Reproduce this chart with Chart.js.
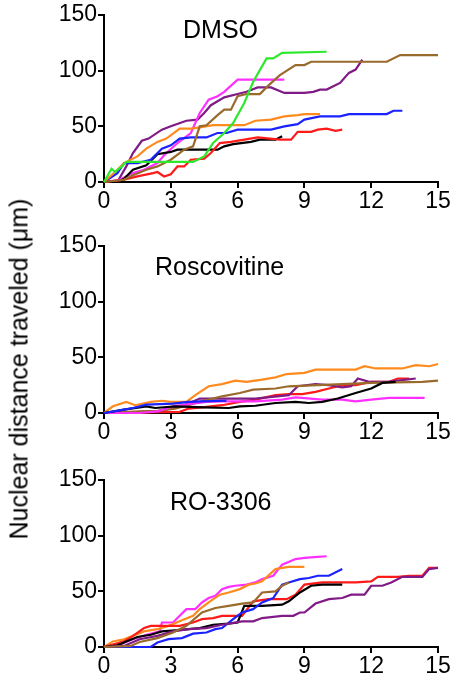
<!DOCTYPE html>
<html>
<head>
<meta charset="utf-8">
<script src="https://cdn.jsdelivr.net/npm/chart.js@4/dist/chart.umd.min.js"></script>
<style>
  html, body { margin: 0; padding: 0; background: #fff; }
  body { width: 455px; height: 683px; position: relative; overflow: hidden; font-family: "Liberation Sans", Arial, sans-serif; }
  .pane { position: absolute; left: 0; width: 455px; height: 214px; }
  .ttl { position: absolute; font-size: 25px; color: #000; line-height: 1; white-space: nowrap; }
  #ytitle { position: absolute; left: 19px; top: 369px; transform: translate(-50%, -50%) rotate(-90deg); font-size: 25px; white-space: nowrap; color: #000; }
</style>
</head>
<body>
<div class="pane" style="top:0px"><canvas id="c1" width="455" height="214"></canvas></div>
<div class="pane" style="top:231px"><canvas id="c2" width="455" height="214"></canvas></div>
<div class="pane" style="top:465px"><canvas id="c3" width="455" height="214"></canvas></div>
<div class="ttl" style="left:183px; top:17px">DMSO</div>
<div class="ttl" style="left:155px; top:254px">Roscovitine</div>
<div class="ttl" style="left:170px; top:489px">RO-3306</div>
<div id="ytitle">Nuclear distance traveled (μm)</div>
<script>
// ---- data: [time, distance] pairs ----
const panelTitles = ["DMSO", "Roscovitine", "RO-3306"];
const xTicks = [0, 3, 6, 9, 12, 15];
const yTicks = [0, 50, 100, 150];
const seriesColors = {
  green: "#2ee82e", brown: "#9a6a2c", purple: "#801a86", magenta: "#ff30ff",
  orange: "#ff8a1e", blue: "#1a22ff", red: "#ff1a1a", black: "#000000"
};

// DMSO
const dmsoGreen = [[0,0],[0.34,12],[0.5,9],[0.8,14],[1.0,18],[4.0,18],[4.5,23],[4.9,35],[5.4,44],[5.8,53],[6.3,71],[6.7,90],[7.3,111],[7.6,111],[8.0,116],[10.0,117]];
const dmsoBrown = [[0,0],[0.9,2],[1.3,6],[1.9,11],[2.4,14],[3.0,20],[3.6,29],[4.0,32],[4.3,50],[4.6,51],[5.1,60],[5.4,65],[5.7,65],[6.0,77],[6.4,79],[7.0,79],[7.4,87],[7.9,96],[8.6,105],[9.0,105],[9.3,108],[12.7,108],[13.3,114],[15.0,114]];
const dmsoPurple = [[0,0],[0.6,0],[1.0,14],[1.3,26],[1.7,37],[2.0,39],[2.6,47],[3.0,50],[3.7,55],[4.2,56],[4.5,62],[4.8,69],[5.4,76],[6.0,79],[6.4,81],[6.9,85],[7.5,85],[8.1,80],[9.0,80],[9.4,81],[9.7,83],[10.0,83],[10.6,89],[11.0,98],[11.3,101],[11.6,110]];
const dmsoMagenta = [[0,0],[0.7,2],[1.3,8],[1.8,11],[2.4,17],[2.7,24],[3.3,35],[3.9,44],[4.3,62],[4.7,74],[5.1,77],[5.4,81],[6.0,92],[8.1,92]];
const dmsoOrange = [[0,0],[0.6,11],[0.9,17],[1.5,23],[1.9,30],[2.4,36],[2.8,39],[3.4,48],[3.9,48],[4.3,49],[4.9,51],[6.3,51],[6.8,55],[7.5,56],[8.1,59],[8.7,60],[9.0,61],[9.7,61]];
const dmsoBlue = [[0,0],[0.6,8],[0.9,17],[1.5,17],[2.1,20],[2.6,30],[3.0,33],[3.4,39],[3.9,40],[4.6,40],[5.1,44],[5.5,44],[6.0,47],[7.5,47],[8.1,50],[8.7,52],[9.0,56],[9.7,59],[10.6,59],[11.0,61],[12.7,61],[13.0,64],[13.4,64]];
const dmsoRed = [[0,0],[0.9,2],[1.5,5],[2.2,8],[2.4,9],[2.7,5],[3.0,7],[3.3,14],[3.6,14],[3.9,20],[4.5,21],[4.8,26],[5.2,35],[5.7,36],[6.3,38],[6.9,40],[7.9,38],[8.4,38],[8.7,45],[9.3,45],[9.6,47],[10.0,48],[10.4,46],[10.7,47]];
const dmsoBlack = [[0,0],[0.6,0],[0.9,3],[1.3,11],[1.9,15],[2.4,25],[3.0,27],[3.3,29],[5.1,29],[5.4,32],[5.8,34],[6.6,36],[7.0,38],[7.7,38],[8.0,41]];

// Roscovitine
const roscOrange = [[0,0],[0.4,6],[1.0,10],[1.4,7],[2.1,10],[2.6,11],[3.0,10],[3.7,10],[4.1,16],[4.7,24],[5.3,26],[5.9,29],[6.4,28],[7.1,30],[7.7,32],[8.2,35],[9.0,36],[9.5,39],[11.3,39],[11.7,42],[12.2,40],[13.4,40],[14.0,43],[14.6,42],[15.0,44]];
const roscBrown = [[0,0],[1.6,1.5],[2.4,2],[3.2,4],[4.3,10],[5.3,15],[6.1,18],[6.7,21],[7.7,22],[8.3,24],[9.6,25],[10.7,26],[12.0,27],[14.3,28],[15.0,29]];
const roscPurple = [[0,0],[2.4,1.5],[3.5,6],[4.3,13],[6.8,13],[8.3,16],[8.7,24],[9.5,26],[10.1,25],[10.7,23],[11.1,24],[11.4,31],[11.9,28],[12.8,28],[13.2,29],[14.0,31]];
const roscRed = [[0,0],[3.4,1],[3.8,4],[4.4,5],[5.3,7],[6.1,10],[6.8,12],[7.7,16],[8.3,17],[8.9,17],[9.5,19],[10.1,22],[10.7,25],[11.3,25],[12.0,28],[12.8,28],[13.2,31],[13.7,31]];
const roscBlack = [[0,0],[0.9,3],[1.9,6],[2.3,4.5],[3.2,6],[4.5,5],[5.6,4.5],[6.1,6],[6.8,6.5],[7.7,9],[8.6,10],[9.2,9],[9.8,10],[10.5,13],[11.3,18],[12.0,22],[12.5,27],[13.1,28]];
const roscBlue = [[0,0],[0.9,3],[1.3,4.5],[1.9,7.5],[3.1,8.5],[3.8,10],[4.4,10.5],[5.5,11]];
const roscMagenta = [[0,0],[1.6,0],[2.4,1.5],[3.1,6],[3.8,8],[4.6,10],[5.3,10.5],[6.8,10.5],[8.0,12],[8.6,14],[9.8,12],[10.7,12],[11.3,10.5],[12.0,12],[12.8,13.5],[14.4,13.5]];

// RO-3306
const roMagenta = [[0,0],[0.7,2],[1.3,7],[1.9,11],[2.5,14],[2.6,22],[3.1,22],[3.4,28],[3.7,34],[4.1,34],[4.4,40],[4.7,44],[5.0,46],[5.3,52],[5.6,54],[5.9,55],[6.4,56],[6.8,58],[7.1,61],[7.6,64],[8.0,74],[8.6,79],[9.0,80],[9.6,81],[10.0,81.5]];
const roOrange = [[0,0],[0.4,5],[0.9,7],[1.3,10],[1.8,14],[2.4,16],[2.9,19],[3.5,24],[4.0,28],[4.3,34],[4.7,40],[5.2,47],[5.6,49],[6.1,52],[6.5,56],[6.8,57],[7.1,59],[7.7,70],[8.0,71],[8.3,72],[9.0,72]];
const roBlue = [[0,0],[2.1,0],[2.4,4],[2.9,7],[3.5,8],[4.0,12],[4.6,13],[5.0,16],[5.3,17],[5.8,25],[6.2,31],[6.7,34],[7.1,40],[7.6,44],[8.0,56],[8.3,58],[8.8,61],[9.2,62],[9.6,64],[10.1,64],[10.7,70]];
const roBrown = [[0,0],[1.2,1],[1.6,4.5],[2.4,8],[3.1,13],[3.7,19],[4.4,31],[5.0,35],[5.6,37],[6.2,39],[6.7,40],[7.1,49],[7.7,50],[8.0,55],[8.3,58]];
const roRed = [[0,0],[0.9,5],[1.3,10],[1.8,17],[2.1,19],[3.4,19],[4.0,22],[4.4,25],[4.9,26],[5.3,28],[6.2,28],[6.7,41],[7.4,43],[8.2,43],[8.6,47],[9.0,56],[9.8,58],[11.3,58],[12.0,59],[12.3,63],[13.2,63],[13.7,64],[14.3,64],[14.6,71],[15.0,71]];
const roBlack = [[0,0],[0.6,1.5],[1.0,5],[1.5,9],[2.1,11],[2.6,14],[3.2,15],[3.8,16],[4.3,17],[4.9,20],[5.6,21],[6.0,22],[6.3,37],[7.1,37],[8.0,38],[8.3,41],[8.8,49],[9.3,55],[9.8,56],[10.7,56]];
const roPurple = [[0,0],[0.9,1],[1.6,7],[2.4,10],[3.1,14],[3.8,16],[4.6,17],[5.3,20],[6.2,23],[6.7,23],[7.1,26],[8.0,28],[8.5,28],[8.8,31],[9.0,31],[9.5,39],[10.1,43],[10.7,44],[11.1,47],[11.7,47],[12.0,55],[12.5,55],[12.9,58],[13.4,63],[14.3,63],[14.6,70],[15.0,71]];

const panels = [
  { id: "c1", series: [["green", dmsoGreen], ["brown", dmsoBrown], ["orange", dmsoOrange], ["blue", dmsoBlue], ["red", dmsoRed], ["black", dmsoBlack], ["magenta", dmsoMagenta], ["purple", dmsoPurple]] },
  { id: "c2", series: [["blue", roscBlue], ["black", roscBlack], ["magenta", roscMagenta], ["brown", roscBrown], ["purple", roscPurple], ["red", roscRed], ["orange", roscOrange]] },
  { id: "c3", series: [["brown", roBrown], ["purple", roPurple], ["blue", roBlue], ["black", roBlack], ["red", roRed], ["orange", roOrange], ["magenta", roMagenta]] }
];

const font = { family: "'Liberation Sans', Arial, sans-serif", size: 23 };

panels.forEach(p => {
  new Chart(document.getElementById(p.id), {
    type: "line",
    data: {
      datasets: p.series.map(([c, pts]) => ({
        label: c,
        data: pts.map(([x, y]) => ({ x, y })),
        borderColor: seriesColors[c],
        borderWidth: 2.2,
        pointRadius: 0,
        tension: 0,
        fill: false,
        clip: false
      }))
    },
    options: {
      responsive: false,
      animation: false,
      events: [],
      layout: { padding: { top: 15, right: 17, left: 0, bottom: 0 } },
      plugins: { legend: { display: false }, tooltip: { enabled: false }, title: { display: false } },
      scales: {
        x: {
          type: "linear", min: 0, max: 15,
          afterBuildTicks: s => { s.ticks = xTicks.map(v => ({ value: v })); },
          afterFit: s => { s.height = 32; },
          ticks: { color: "#000", font, padding: 0, maxRotation: 0, autoSkip: false },
          grid: { display: true, drawOnChartArea: false, drawTicks: true, tickLength: 6, color: "#000", lineWidth: 2 },
          border: { display: true, color: "#000", width: 2 }
        },
        y: {
          type: "linear", min: 0, max: 150,
          afterBuildTicks: s => { s.ticks = yTicks.map(v => ({ value: v })); },
          afterFit: s => { s.width = 104; },
          ticks: { color: "#000", font, padding: 1 },
          grid: { display: true, drawOnChartArea: false, drawTicks: true, tickLength: 6, color: "#000", lineWidth: 2 },
          border: { display: true, color: "#000", width: 2 }
        }
      }
    }
  });
});
</script>
</body>
</html>
